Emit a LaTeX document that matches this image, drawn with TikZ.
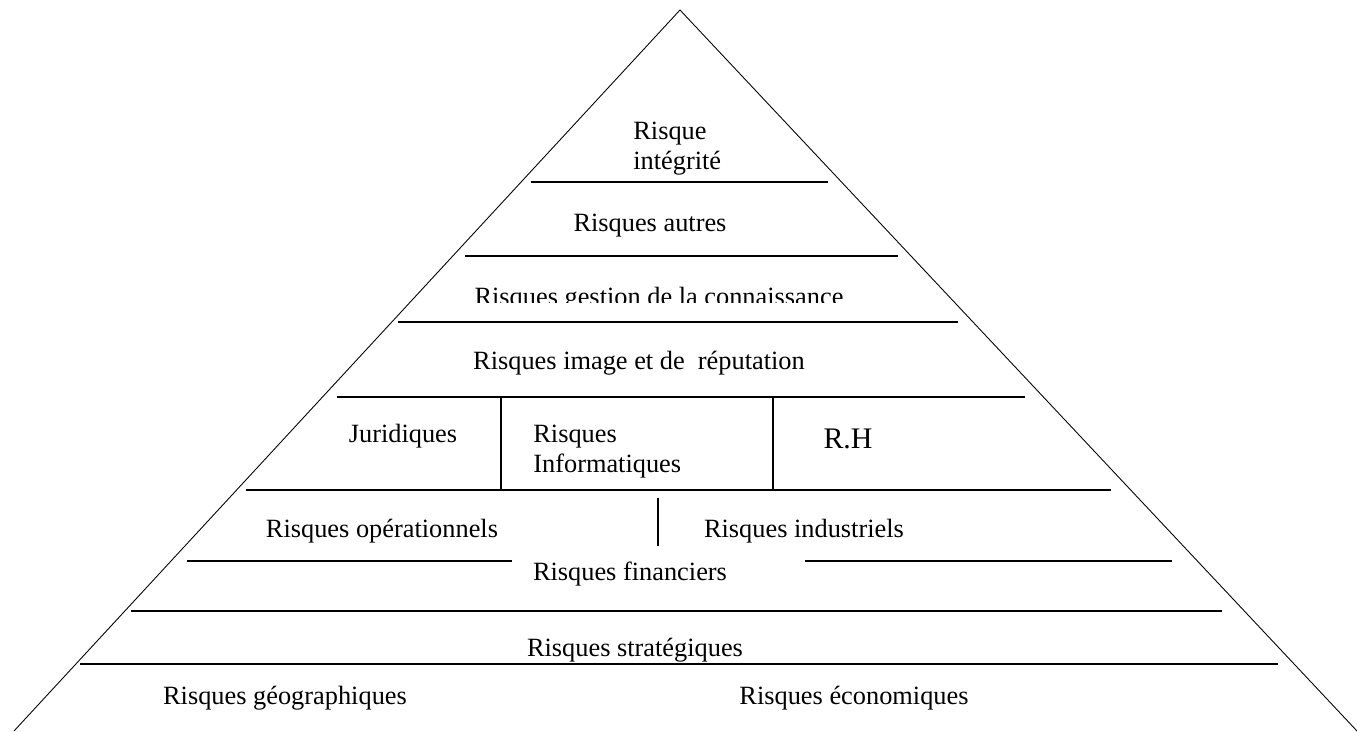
\documentclass[tikz,border=0pt]{standalone}
\usepackage{fontspec}
\setmainfont{Liberation Serif}
\begin{document}
\begin{tikzpicture}[x=0.02cm,y=-0.02cm,
    level/.style={line width=1.1pt},
    wall/.style={line width=0.8pt},
    lbl/.style={font=\fontsize{15}{17}\selectfont,inner sep=0pt,anchor=base}]
  \useasboundingbox (0,0) rectangle (1357,731);
  % pyramid outline
  \coordinate (top) at (680,10);
  \coordinate (bl) at (14,731);
  \coordinate (br) at (1357,731);
  \draw[line width=0.5pt] (bl) -- (top) -- (br);
  % levels
  \foreach \y/\a/\b in {182/531/828, 256/465/898, 322/398/958,
      397/337/1025, 490/246/1111, 561/187/512, 561/805/1172,
      611/131/1222, 664/80/1278}
    \draw[level] (\a,\y) -- (\b,\y);
  \draw[wall] (501,397) -- (501,490);
  \draw[wall] (773,397) -- (773,490);
  \draw[wall] (658,498) -- (658,546);
  % labels
  \node[lbl,anchor=base west,align=left] (integ) at (633,169) {Risque\\intégrité};
  \node[lbl] (autres) at (650,231) {Risques autres};
  \begin{scope}
    \clip (380,270) rectangle (980,302);
    \node[lbl] (gestion) at (659,305) {Risques gestion de la connaissance};
  \end{scope}
  \node[lbl] (image) at (639,369) {Risques image et de\ \ réputation};
  \node[lbl] (jurid) at (403,442) {Juridiques};
  \node[lbl,anchor=base west,align=left] (info) at (533,472) {Risques\\Informatiques};
  \node[lbl,font=\fontsize{17}{20}\selectfont] (rh) at (848,448) {R.H};
  \node[lbl] (oper) at (382,537) {Risques opérationnels};
  \node[lbl] (indus) at (804,537) {Risques industriels};
  \node[lbl] (finan) at (630,580) {Risques financiers};
  \node[lbl] (strat) at (635,656) {Risques stratégiques};
  \node[lbl] (geo) at (285,704) {Risques géographiques};
  \node[lbl] (eco) at (854,704) {Risques économiques};
\end{tikzpicture}
\end{document}
